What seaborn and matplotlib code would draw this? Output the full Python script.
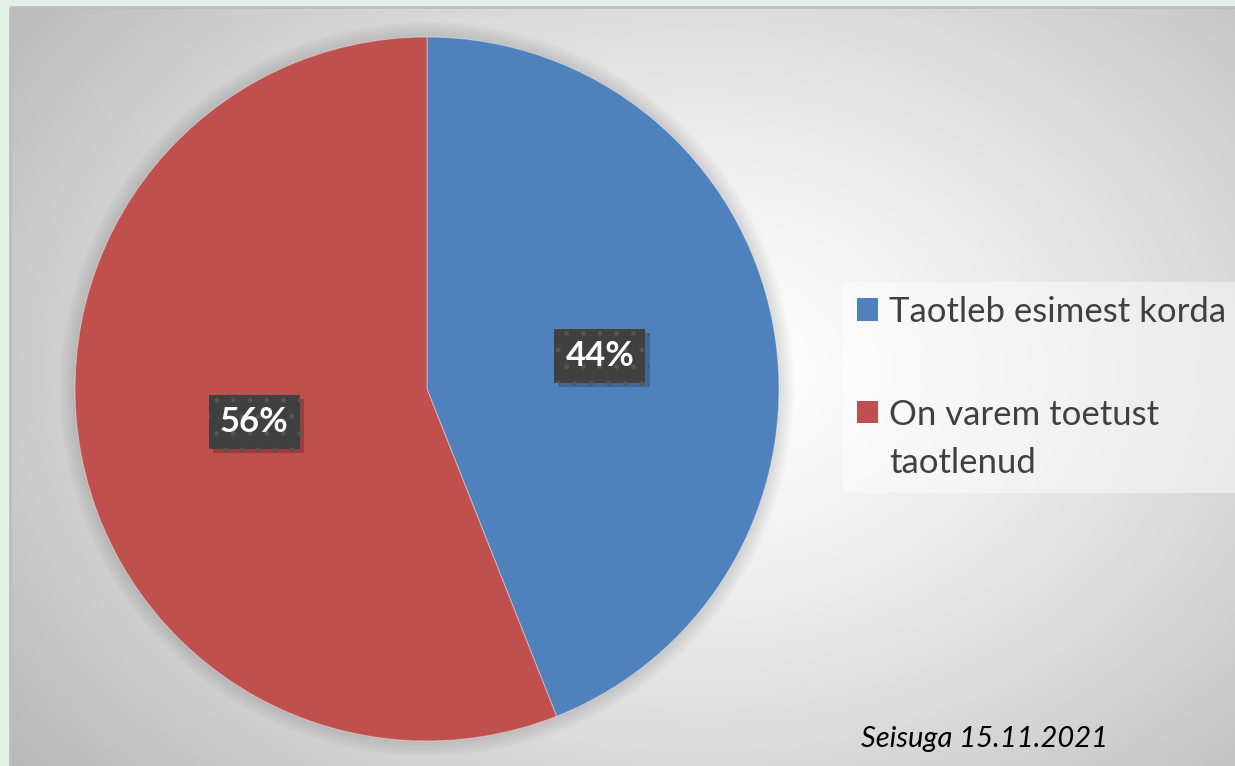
import numpy as np
import matplotlib
matplotlib.use('Agg')
import matplotlib.pyplot as plt
import matplotlib.patheffects as pe
from matplotlib.patches import Patch, Rectangle, Circle
import seaborn as sns

# --- data ---
labels = ['Taotleb esimest korda', 'On varem toetust\ntaotlenud']
shares = [44, 56]
colors = ['#4F81BD', '#C0504D']
note = 'Seisuga 15.11.2021'

sns.set_theme(style='white')
plt.rcParams['font.family'] = ['Lato', 'DejaVu Sans']
plt.rcParams['hatch.linewidth'] = 1.0

W, H = 1235, 766
fig = plt.figure(figsize=(W / 100, H / 100), dpi=100, facecolor='#E2F0E6')

# --- background panel with a soft radial gradient ---
bg = fig.add_axes([0, 0, 1, 1])
bg.set_xlim(0, W)
bg.set_ylim(H, 0)
bg.axis('off')
yy, xx = np.mgrid[7:H, 10:W]
d = np.hypot((xx - 700) / 880.0, (yy - 370) / 640.0)
shade = 1 - 0.28 * np.clip(d, 0, 1.4) ** 1.3
bg.imshow(np.dstack([shade] * 3), extent=(10, W, H, 7), aspect='auto', zorder=0)
bg.add_patch(Rectangle((10, 7), W, H, fill=False, edgecolor='#BDBDBD', lw=2, zorder=1))

# --- pie ---
R = 352
cx, cy = 427, 389
ax = fig.add_axes([(cx - R) / W, (H - cy - R) / H, 2 * R / W, 2 * R / H])
ax.patch.set_alpha(0)

# soft shadow round the pie
for i in range(1, 7):
    ax.add_patch(Circle((0, 0), 1 + i * 0.007, facecolor='black', alpha=0.018,
                        edgecolor='none', zorder=0, clip_on=False))

wedges, texts, autotexts = ax.pie(
    shares, colors=colors, startangle=90, counterclock=False,
    autopct='%1.0f%%', pctdistance=0.5,
    wedgeprops=dict(linewidth=0.8, edgecolor=(1, 1, 1, 0.35)),
)
for w in wedges:
    w.set_clip_on(False)
    w.set_zorder(2)
ax.set_xlim(-1, 1)
ax.set_ylim(-1, 1)
ax.set_aspect('equal')

for t in autotexts:
    t.set_color('white')
    t.set_fontsize(25)
    t.set_fontweight('bold')
    t.set_zorder(4)
    t.set_bbox(dict(boxstyle='square,pad=0.32', facecolor='#404040', edgecolor='#565656',
                    linewidth=0, hatch='.'))
    t.get_bbox_patch().set_path_effects(
        [pe.SimplePatchShadow(offset=(3, -3), shadow_rgbFace='black', alpha=0.2), pe.Normal()])

# --- legend ---
handles = [Patch(facecolor=c, edgecolor='none') for c in colors]
leg = fig.legend(handles, labels, loc='upper left', bbox_to_anchor=(843 / W, 1 - 282 / H),
                 fontsize=25, frameon=True, facecolor='white', framealpha=0.45,
                 edgecolor='none', fancybox=False, handlelength=0.62, handleheight=0.62,
                 handletextpad=0.3, labelspacing=2.05, borderpad=0.4, borderaxespad=0)
leg.get_frame().set_linewidth(0)
for txt in leg.get_texts():
    txt.set_color('#404040')
leg.get_texts()[1].set_linespacing(1.6)
# put the second square next to the first line of its label
h2 = leg.legend_handles[1]
h2.set_y(h2.get_y() + 20)

# --- date note ---
fig.text(861 / W, 1 - 747 / H, note, style='italic', fontsize=21, color='black',
         ha='left', va='baseline')

fig.savefig('out.png', dpi=100, facecolor=fig.get_facecolor())
